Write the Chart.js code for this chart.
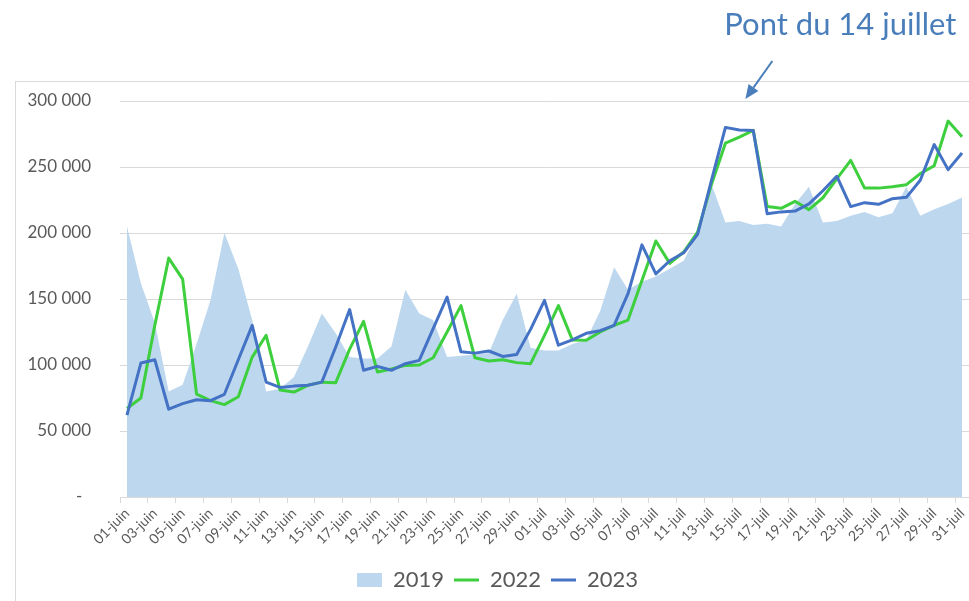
<!DOCTYPE html>
<html>
<head>
<meta charset="utf-8">
<script src="https://cdn.jsdelivr.net/npm/chart.js@4.4.1/dist/chart.umd.min.js"></script>
<style>
  html, body { margin: 0; padding: 0; background: #fff; }
  #wrap { width: 969px; height: 601px; position: relative; }
</style>
</head>
<body>
<div id="wrap"><canvas id="chart"></canvas></div>
<script>
// jours affichés sur l'axe (juin + juillet)
const labels = [
  '01-juin','02-juin','03-juin','04-juin','05-juin','06-juin','07-juin','08-juin','09-juin','10-juin',
  '11-juin','12-juin','13-juin','14-juin','15-juin','16-juin','17-juin','18-juin','19-juin','20-juin',
  '21-juin','22-juin','23-juin','24-juin','25-juin','26-juin','27-juin','28-juin','29-juin','30-juin',
  '01-juil','02-juil','03-juil','04-juil','05-juil','06-juil','07-juil','08-juil','09-juil','10-juil',
  '11-juil','12-juil','13-juil','14-juil','15-juil','16-juil','17-juil','18-juil','19-juil','20-juil',
  '21-juil','22-juil','23-juil','24-juil','25-juil','26-juil','27-juil','28-juil','29-juil','30-juil',
  '31-juil'
];

const data2019 = [
  205000, 162000, 132000, 80000, 85000, 116000, 149000, 200000, 173000, 134000,
  80000, 82000, 91000, 114000, 139000, 124000, 106000, 105000, 105000, 114000,
  157000, 139000, 134000, 106000, 107000, 108000, 109000, 134000, 154000, 113000,
  111000, 111000, 116000, 119000, 141000, 174000, 157000, 163000, 167000, 173000,
  179000, 200000, 237000, 208000, 209000, 206000, 207000, 205000, 222000, 235000,
  208000, 209000, 213000, 216000, 212000, 215000, 235000, 213000, 218000, 222000,
  227000
];

const data2022 = [
  67000, 75000, 130000, 181000, 165000, 78000, 73000, 70000, 76000, 106000,
  122500, 81000, 79500, 84600, 87000, 86600, 112000, 133000, 94700, 97000,
  99700, 100000, 105500, 125000, 145000, 105500, 103000, 104000, 101800, 101000,
  122500, 145000, 119000, 118700, 125000, 130000, 134000, 164000, 194000, 177000,
  185600, 200700, 237000, 268000, 272700, 277700, 220000, 218700, 224000, 217700,
  226700, 241000, 255000, 234000, 234000, 235000, 236600, 245000, 251000, 284800,
  273000
];

const data2023 = [
  62000, 101500, 104000, 66500, 70700, 73700, 73000, 77800, 104000, 130000,
  87000, 83000, 84000, 84600, 87000, 113600, 142000, 96000, 99000, 96000,
  101000, 103500, 127500, 151500, 110000, 109000, 110600, 106500, 108000, 127000,
  149000, 115000, 119000, 124000, 126000, 130000, 154000, 191000, 169000, 179000,
  185000, 199000, 240000, 280000, 278000, 277700, 214600, 216000, 216600, 222000,
  232000, 243000, 220000, 223000, 221700, 226000, 227000, 240000, 267000, 248000,
  260600
];

const seriesNames = ['2019', '2022', '2023'];
const noteText = 'Pont du 14 juillet';
const noteIndex = 44; // 15-juil

const GRAY = '#595959';
const GRID = '#D9D9D9';

function fmt(v) {
  if (v === 0) return '-  ';
  return String(v).replace(/\B(?=(\d{3})+(?!\d))/g, ' ');
}

const decor = {
  id: 'decor',
  beforeDraw(chart) {
    const c = chart.ctx;
    c.save();
    c.fillStyle = '#fff';
    c.fillRect(0, 0, chart.width, chart.height);
    c.strokeStyle = GRID;
    c.lineWidth = 1;
    c.strokeRect(15.5, 81.5, chart.width, chart.height);
    c.restore();
  },
  afterDraw(chart) {
    const { ctx: c, scales: { x, y } } = chart;
    const tipX = x.getPixelForValue(noteIndex) + 6;
    const tipY = y.getPixelForValue(300000) - 2;
    const tailX = tipX + 27, tailY = tipY - 38;
    const len = Math.hypot(tipX - tailX, tipY - tailY);
    const ux = (tipX - tailX) / len, uy = (tipY - tailY) / len;
    const head = 14, half = 6;
    const bx = tipX - ux * head, by = tipY - uy * head;

    c.save();
    c.strokeStyle = '#4A7EBB';
    c.fillStyle = '#4A7EBB';
    c.lineWidth = 2;
    c.beginPath();
    c.moveTo(tailX, tailY);
    c.lineTo(bx, by);
    c.stroke();
    c.beginPath();
    c.moveTo(tipX, tipY);
    c.lineTo(bx - uy * half, by + ux * half);
    c.lineTo(bx + uy * half, by - ux * half);
    c.closePath();
    c.fill();

    c.font = '31px Lato';
    c.textAlign = 'center';
    c.textBaseline = 'alphabetic';
    c.fillStyle = '#4A7EBB';
    c.fillText(noteText, tipX + 95, 35);
    c.restore();
  }
};

new Chart(document.getElementById('chart'), {
  type: 'line',
  data: {
    labels: labels,
    datasets: [
      {
        label: seriesNames[0],
        data: data2019,
        fill: 'origin',
        backgroundColor: '#BDD7EE',
        borderColor: '#BDD7EE',
        borderWidth: 0,
        pointRadius: 0,
        pointStyle: 'rect',
        pointBorderWidth: 0,
        pointBackgroundColor: '#BDD7EE',
        order: 3
      },
      {
        label: seriesNames[1],
        data: data2022,
        fill: false,
        borderColor: '#3DCF3D',
        backgroundColor: '#3DCF3D',
        borderWidth: 3,
        pointRadius: 0,
        pointStyle: 'line',
        pointBorderWidth: 3,
        pointBorderColor: '#3DCF3D',
        order: 2
      },
      {
        label: seriesNames[2],
        data: data2023,
        fill: false,
        borderColor: '#4472C4',
        backgroundColor: '#4472C4',
        borderWidth: 3,
        pointRadius: 0,
        pointStyle: 'line',
        pointBorderWidth: 3,
        pointBorderColor: '#4472C4',
        order: 1
      }
    ]
  },
  options: {
    responsive: true,
    maintainAspectRatio: false,
    animation: false,
    layout: { padding: { top: 101, left: 26, right: 0, bottom: 0 } },
    elements: { line: { tension: 0, borderJoinStyle: 'round' } },
    scales: {
      x: {
        offset: true,
        grid: {
          offset: true,
          drawOnChartArea: false,
          drawTicks: true,
          tickLength: 6,
          color: (ctx) => (ctx.index !== undefined && ctx.index % 2 === 0) ? GRID : 'rgba(0,0,0,0)'
        },
        border: { display: true, color: GRID },
        ticks: {
          autoSkip: false,
          maxRotation: 45,
          minRotation: 45,
          padding: 2,
          color: GRAY,
          font: { family: 'Lato', size: 14 },
          callback: (v, i) => (i % 2 === 0 ? labels[i] : '')
        },
        afterFit: (scale) => {
          scale.height = 62;
          scale.paddingLeft = 0;
          scale.paddingRight = 0;
        }
      },
      y: {
        min: 0,
        max: 300000,
        border: { display: false },
        grid: { color: GRID, drawTicks: false },
        ticks: {
          stepSize: 50000,
          padding: 29,
          color: GRAY,
          font: { family: 'Lato', size: 17 },
          callback: (v) => fmt(v)
        },
        afterFit: (scale) => { scale.width = 94; }
      }
    },
    plugins: {
      legend: {
        position: 'bottom',
        labels: {
          usePointStyle: true,
          pointStyleWidth: 25,
          boxHeight: 14,
          padding: 10,
          color: GRAY,
          font: { family: 'Lato', size: 22 },
          sort: (a, b) => a.datasetIndex - b.datasetIndex
        }
      },
      tooltip: { enabled: false }
    }
  },
  plugins: [decor]
});
</script>
</body>
</html>
